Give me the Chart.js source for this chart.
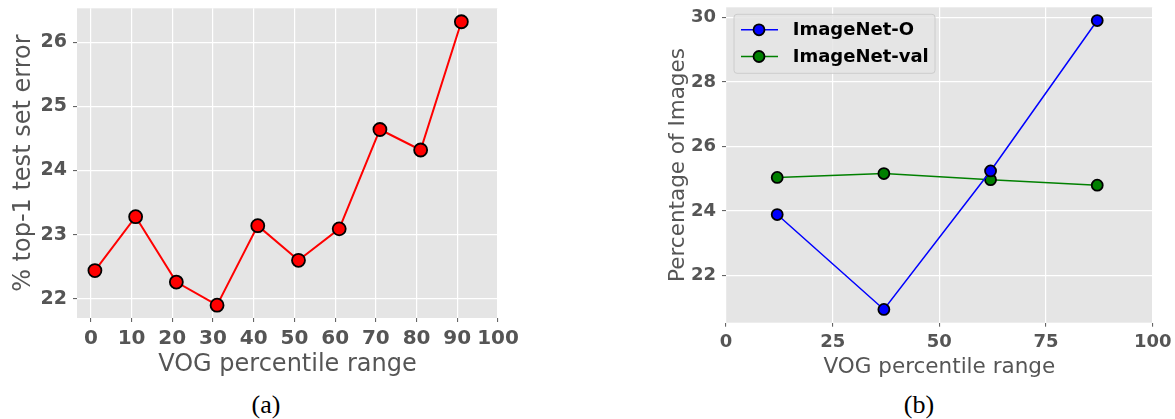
<!DOCTYPE html>
<html>
<head>
<meta charset="utf-8">
<script src="https://cdn.jsdelivr.net/npm/chart.js@4"></script>
<style>
  html, body { margin:0; padding:0; background:#fff; }
  body { width:1175px; height:419px; position:relative; overflow:hidden; }
  .panel { position:absolute; top:0; }
  .cap { position:absolute; top:390px; font-family:"Liberation Serif","Times New Roman",serif; font-size:26px; color:#000; width:60px; text-align:center; }
</style>
</head>
<body>
<div class="panel" style="left:0"><canvas id="chartA" width="520" height="380"></canvas></div>
<div class="panel" style="left:660px"><canvas id="chartB" width="515" height="380"></canvas></div>
<div class="cap" style="left:236px">(a)</div>
<div class="cap" style="left:889px">(b)</div>
<script>
// (a) top-1 error per VOG percentile bin
var A_X = [1, 11, 21, 31, 41, 51, 61, 71, 81, 91];
var A_Y = [22.44, 23.28, 22.26, 21.90, 23.14, 22.60, 23.09, 24.64, 24.32, 26.32];
var A_XTICKS = [0, 10, 20, 30, 40, 50, 60, 70, 80, 90, 100];
var A_YTICKS = [22, 23, 24, 25, 26];

// (b) share of images per VOG quartile
var B_X = [12, 37, 62, 87];
var B_O = [23.89, 20.95, 25.24, 29.90];
var B_VAL = [25.04, 25.16, 24.97, 24.80];
var B_LABELS = ['ImageNet-O', 'ImageNet-val'];
var B_XTICKS = [0, 25, 50, 75, 100];
var B_YTICKS = [22, 24, 26, 28, 30];

var GRAY = '#555555';
var FONT = "'DejaVu Sans', sans-serif";

function pts(xs, ys) {
  return xs.map(function(x, i) { return {x: x, y: ys[i]}; });
}

/* ggplot-style grey panel */
var panelBg = {
  id: 'panelBg',
  beforeDraw: function(chart) {
    var a = chart.chartArea, ctx = chart.ctx;
    ctx.save();
    ctx.fillStyle = '#e5e5e5';
    ctx.fillRect(a.left, a.top, a.right - a.left, a.bottom - a.top);
    ctx.restore();
  }
};

/* legend drawn inside the panel, line + marker like matplotlib */
var insideLegend = {
  id: 'insideLegend',
  afterDatasetsDraw: function(chart) {
    var a = chart.chartArea, ctx = chart.ctx;
    var x0 = a.left + 8, y0 = a.top + 7, w = 201, h = 59;
    ctx.save();
    ctx.beginPath();
    if (ctx.roundRect) ctx.roundRect(x0, y0, w, h, 3); else ctx.rect(x0, y0, w, h);
    ctx.fillStyle = 'rgba(229,229,229,0.85)';
    ctx.fill();
    ctx.lineWidth = 1;
    ctx.strokeStyle = '#cccccc';
    ctx.stroke();
    chart.data.datasets.forEach(function(ds, i) {
      var cy = y0 + 15.5 + i * 26.7;
      ctx.beginPath();
      ctx.moveTo(x0 + 7, cy); ctx.lineTo(x0 + 44, cy);
      ctx.lineWidth = ds.borderWidth; ctx.strokeStyle = ds.borderColor; ctx.stroke();
      ctx.beginPath();
      ctx.arc(x0 + 25, cy, ds.pointRadius, 0, 2 * Math.PI);
      ctx.fillStyle = ds.pointBackgroundColor; ctx.fill();
      ctx.lineWidth = ds.pointBorderWidth; ctx.strokeStyle = ds.pointBorderColor; ctx.stroke();
      ctx.fillStyle = '#000';
      ctx.font = 'bold 18px ' + FONT;
      ctx.textBaseline = 'middle';
      ctx.textAlign = 'left';
      ctx.fillText(ds.label, x0 + 58.7, cy + 1);
    });
    ctx.restore();
  }
};

function axis(o) {
  return {
    type: 'linear', min: o.min, max: o.max,
    afterBuildTicks: function(s) { s.ticks = o.ticks.map(function(v) { return {value: v}; }); },
    afterFit: function(s) {
      o.fit(s);
      s.paddingTop = 0; s.paddingBottom = 0; s.paddingLeft = 0; s.paddingRight = 0;
    },
    border: {display: false},
    grid: {color: '#ffffff', lineWidth: 1.2, drawTicks: true, tickLength: 4, tickColor: GRAY, tickWidth: 1},
    ticks: {autoSkip: false, maxRotation: 0, padding: o.pad, color: GRAY, font: {family: FONT, size: o.tickSize, weight: 'bold'}},
    title: {display: true, text: o.title, color: GRAY, padding: o.titlePad, font: {family: FONT, size: o.titleSize}}
  };
}

function lineSet(label, data, color, r, lw) {
  return {
    label: label, data: data,
    borderColor: color, borderWidth: lw,
    pointBackgroundColor: color, pointBorderColor: '#000', pointBorderWidth: 1.8,
    pointRadius: r, pointHoverRadius: r, tension: 0, clip: false
  };
}

Chart.defaults.animation = false;

new Chart(document.getElementById('chartA'), {
  type: 'line',
  data: {datasets: [lineSet('error', pts(A_X, A_Y), '#ff0000', 6.5, 2)]},
  options: {
    responsive: false, devicePixelRatio: 1,
    layout: {padding: {top: 6, right: 22, left: 0, bottom: 0}},
    plugins: {legend: {display: false}, tooltip: {enabled: false}},
    scales: {
      x: axis({min: -3.4, max: 100, ticks: A_XTICKS, tickSize: 20, pad: 5, title: 'VOG percentile range', titleSize: 24, titlePad: {top: 0, bottom: 1},
               fit: function(s) { s.height = 62; }}),
      y: axis({min: 21.70, max: 26.53, ticks: A_YTICKS, tickSize: 19, pad: 6, title: '% top-1 test set error', titleSize: 24, titlePad: {top: 9.6, bottom: 0},
               fit: function(s) { s.width = 77; }})
    }
  },
  plugins: [panelBg]
});

new Chart(document.getElementById('chartB'), {
  type: 'line',
  data: {datasets: [
    lineSet(B_LABELS[0], pts(B_X, B_O), '#0000ff', 5.5, 1.5),
    lineSet(B_LABELS[1], pts(B_X, B_VAL), '#008000', 5.5, 1.5)
  ]},
  options: {
    responsive: false, devicePixelRatio: 1,
    layout: {padding: {top: 6, right: 22.3, left: 0, bottom: 0}},
    plugins: {legend: {display: false}, tooltip: {enabled: false}},
    scales: {
      x: axis({min: 0, max: 100, ticks: B_XTICKS, tickSize: 18, pad: 5, title: 'VOG percentile range', titleSize: 21.5, titlePad: {top: 0, bottom: 0},
               fit: function(s) { s.height = 57.3; }}),
      y: axis({min: 20.54, max: 30.31, ticks: B_YTICKS, tickSize: 18, pad: 6, title: 'Percentage of Images', titleSize: 21.5, titlePad: {top: 5.6, bottom: 0},
               fit: function(s) { s.width = 66; }})
    }
  },
  plugins: [panelBg, insideLegend]
});
</script>
</body>
</html>
